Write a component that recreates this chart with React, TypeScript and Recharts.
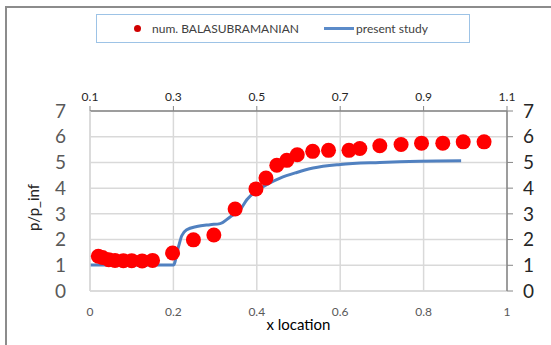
import React from 'react';
import {
  ComposedChart,
  Scatter,
  Line,
  XAxis,
  YAxis,
  CartesianGrid,
  Legend,
} from 'recharts';

// reference points, bottom axis (x location)
const numX = [0.02, 0.03, 0.045, 0.06, 0.08, 0.1, 0.125, 0.15, 0.198, 0.248, 0.297, 0.348, 0.398, 0.422, 0.448, 0.472, 0.497, 0.534, 0.572, 0.621, 0.647, 0.695, 0.746, 0.795, 0.846, 0.895, 0.945];
const numY = [1.35, 1.3, 1.22, 1.19, 1.18, 1.18, 1.17, 1.19, 1.48, 1.99, 2.18, 3.19, 3.97, 4.39, 4.89, 5.08, 5.3, 5.43, 5.47, 5.47, 5.54, 5.65, 5.7, 5.75, 5.75, 5.8, 5.8];

// present study curve, plotted on the top (secondary) axis
const studyX = [0.1, 0.2, 0.3, 0.312, 0.32, 0.332, 0.356, 0.388, 0.412, 0.436, 0.46, 0.476, 0.515, 0.556, 0.596, 0.635, 0.7, 0.795, 0.89, 0.99];
const studyY = [1.01, 1.01, 1.01, 1.71, 2.15, 2.38, 2.51, 2.58, 2.62, 2.88, 3.16, 3.55, 4.05, 4.39, 4.61, 4.78, 4.92, 5.0, 5.05, 5.07];

const bottomTicks = [0, 0.2, 0.4, 0.6, 0.8, 1];
const topTicks = [0.1, 0.3, 0.5, 0.7, 0.9, 1.1];
const yTicks = [0, 1, 2, 3, 4, 5, 6, 7];

const numData = numX.map((x, i) => ({ x, y: numY[i] }));
const studyData = studyX.map((x, i) => ({ x, y: studyY[i] }));

const FONT = 'Lato, "Liberation Sans", sans-serif';

const LegendBox = () => (
  <div
    style={{
      width: 372,
      height: 27,
      border: '1px solid #9dc3e6',
      display: 'flex',
      alignItems: 'center',
      fontFamily: FONT,
      fontSize: 12,
      color: '#404040',
      background: '#fff',
    }}
  >
    <span style={{ width: 7, height: 7, borderRadius: 4, background: '#d00000', marginLeft: 37 }} />
    <span style={{ marginLeft: 11 }}>num. BALASUBRAMANIAN</span>
    <span style={{ width: 30, height: 3, background: '#5b8bc9', marginLeft: 25 }} />
    <span style={{ marginLeft: 2 }}>present study</span>
  </div>
);

const Dot = (props: any) => <circle cx={props.cx} cy={props.cy} r={7.5} fill="#ff0000" />;

const App: React.FC = () => {
  return (
    <div style={{ position: 'absolute', left: 0, top: 0, width: 551, height: 345, background: '#fff', overflow: 'hidden' }}>
      <div
        style={{
          position: 'absolute',
          left: 5,
          top: 6,
          width: 600,
          height: 400,
          borderLeft: '2px solid #8c8c8c',
          borderTop: '2px solid #8c8c8c',
        }}
      />
      <ComposedChart
        width={551}
        height={345}
        margin={{ top: 62, right: 4, bottom: 34, left: 50 }}
        style={{ position: 'absolute', left: 0, top: 0, fontFamily: FONT }}
      >
        <CartesianGrid xAxisId="bottom" yAxisId="left" stroke="#d9d9d9" strokeWidth={1.5} />
        <XAxis
          xAxisId="bottom"
          dataKey="x"
          type="number"
          domain={[0, 1]}
          ticks={bottomTicks}
          interval={0}
          height={20}
          axisLine={{ stroke: '#d9d9d9', strokeWidth: 1.5 }}
          tickLine={false}
          tick={{ fill: '#595959', fontSize: 12 }}
          tickMargin={10}
          label={{ value: 'x location', position: 'insideBottom', offset: -19, fill: '#000', fontSize: 15 }}
        />
        <XAxis
          xAxisId="top"
          orientation="top"
          dataKey="x"
          type="number"
          domain={[0.1, 1.1]}
          ticks={topTicks}
          interval={0}
          height={20}
          axisLine={{ stroke: '#868686', strokeWidth: 1.5 }}
          tickLine={{ stroke: '#868686' }}
          tickSize={5}
          tick={{ fill: '#262626', fontSize: 12 }}
          tickMargin={5}
        />
        <YAxis
          yAxisId="left"
          dataKey="y"
          type="number"
          domain={[0, 7]}
          ticks={yTicks}
          interval={0}
          width={40}
          axisLine={{ stroke: '#d9d9d9', strokeWidth: 1.5 }}
          tickLine={false}
          tick={{ fill: '#595959', fontSize: 19 }}
          tickMargin={18}
          label={{ value: 'p/p_inf', angle: -90, position: 'insideLeft', offset: -16, fill: '#262626', fontSize: 15, dy: 30 }}
        />
        <YAxis
          yAxisId="right"
          orientation="right"
          dataKey="y"
          type="number"
          domain={[0, 7]}
          ticks={yTicks}
          interval={0}
          width={40}
          axisLine={{ stroke: '#868686', strokeWidth: 1.5 }}
          tickLine={{ stroke: '#868686' }}
          tickSize={6}
          tick={{ fill: '#262626', fontSize: 19, textAnchor: 'start' }}
          tickMargin={10}
        />
        <Legend
          verticalAlign="top"
          content={() => <LegendBox />}
          wrapperStyle={{ position: 'absolute', left: 96, top: 14, width: 374 }}
        />
        <Scatter
          name="num. BALASUBRAMANIAN"
          data={numData}
          xAxisId="bottom"
          yAxisId="left"
          fill="#ff0000"
          shape={Dot}
          isAnimationActive={false}
        />
        <Line
          name="present study"
          data={studyData}
          xAxisId="top"
          yAxisId="right"
          dataKey="y"
          type="monotone"
          stroke="#5181c0"
          strokeWidth={3}
          dot={false}
          isAnimationActive={false}
        />
      </ComposedChart>
    </div>
  );
};

export default App;
